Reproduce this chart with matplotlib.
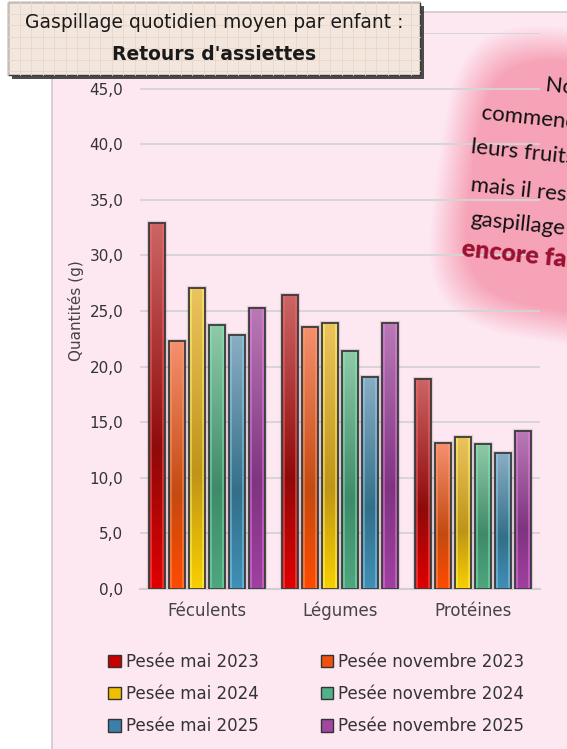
import matplotlib.pyplot as plt
import numpy as np
from matplotlib.colors import LinearSegmentedColormap, to_rgb
from matplotlib.patches import Rectangle, Patch

# Data
categories = ['Féculents', 'Légumes', 'Protéines']
series = ['Pesée mai 2023', 'Pesée novembre 2023', 'Pesée mai 2024',
          'Pesée novembre 2024', 'Pesée mai 2025', 'Pesée novembre 2025']
mai_2023 = [32.9, 26.4, 18.9]
nov_2023 = [22.3, 23.6, 13.1]
mai_2024 = [27.1, 23.9, 13.7]
nov_2024 = [23.7, 21.4, 13.0]
mai_2025 = [22.8, 19.1, 12.2]
nov_2025 = [25.3, 23.9, 14.2]
values = [mai_2023, nov_2023, mai_2024, nov_2024, mai_2025, nov_2025]

# bar gradient stops: top, middle (dark), bottom (bright), inner edge highlight
top_colors = ['#cc6666', '#f59070', '#ecc45e', '#8fcaa8', '#8aaec4', '#b97ab5']
mid_colors = ['#8f0a0a', '#c44a10', '#c09418', '#3f8a6a', '#336f88', '#7f3480']
bot_colors = ['#e00000', '#ff4a00', '#f8d000', '#4fa67f', '#4090b8', '#a040a0']
edge_light = ['#ff6a6a', '#ffa070', '#ffff70', '#80f0b8', '#90d8f8', '#f080f0']
legend_colors = ['#c80000', '#f05010', '#f0c000', '#50b088', '#3a80a8', '#a048a0']

W, H = 567, 749
fig = plt.figure(figsize=(W / 100, H / 100), dpi=100)

def fx(x):
    return x / W

def fy(y):
    return 1 - y / H

# background: pink panel + blob
bg = fig.add_axes([0, 0, 1, 1], zorder=-2)
bg.set_xlim(0, W)
bg.set_ylim(H, 0)
bg.axis('off')
bg.add_patch(Rectangle((52, 12), W, H, facecolor='#fde8f2', edgecolor='#d0c8cc', lw=1.2))

yy, xx = np.mgrid[0:380, 0:170]
cx, cy = 600, 190
ang = np.deg2rad(-8)
dx = (xx + 420) - cx
dy = (yy + 10) - cy
rx = dx * np.cos(ang) - dy * np.sin(ang)
ry = dx * np.sin(ang) + dy * np.cos(ang)
d = ((rx / 165) ** 4 + (ry / 158) ** 4) ** 0.25
alpha = np.clip((1.0 - d) / 0.22, 0, 1) * 0.58
blob = np.zeros((380, 170, 4))
blob[..., :3] = to_rgb('#f2708c')
blob[..., 3] = alpha
bg.imshow(blob, extent=[420, 590, 390, 10], interpolation='bilinear', zorder=1)

# main plot
ax = fig.add_axes([fx(140), fy(589), fx(540) - fx(140), fy(33) - fy(589)])
ax.set_facecolor('none')

step = 0.15
bw = 0.12
x = np.arange(len(categories))
grad = np.linspace(0, 1, 256).reshape(-1, 1)
for i, vals in enumerate(values):
    off = (i - 2.5) * step
    cmap = LinearSegmentedColormap.from_list(
        'g', [(0, top_colors[i]), (0.62, mid_colors[i]), (1, bot_colors[i])])
    for xi, v in zip(x, vals):
        x0 = xi + off - bw / 2
        ax.bar(xi + off, v, width=bw, color='none', edgecolor=(0, 0, 0, 0.12), lw=3, zorder=2)
        ax.imshow(grad, extent=[x0, x0 + bw, 0, v], cmap=cmap, aspect='auto', zorder=3)
        ax.bar(xi + off, v, width=bw * 0.76, color='none', edgecolor=edge_light[i],
               alpha=0.55, lw=1.2, zorder=4)
        ax.bar(xi + off, v, width=bw, color='none', edgecolor='#3a3a3a', lw=1.3, zorder=5)

ax.set_xlim(-0.5, 2.5)
ax.set_ylim(0, 50)
yt = np.arange(0, 51, 5)
ax.set_yticks(yt)
ax.set_yticklabels([f'{t:.1f}'.replace('.', ',') if t < 50 else '' for t in yt])
ax.set_xticks(x)
ax.set_xticklabels(categories)
ax.grid(axis='y', color='#d4d4d4', lw=1.3, zorder=0)
ax.set_axisbelow(True)
for s in ['top', 'right', 'left']:
    ax.spines[s].set_visible(False)
ax.spines['bottom'].set_color('#cfcfcf')
ax.spines['bottom'].set_linewidth(1.5)
ax.tick_params(axis='y', length=0, pad=12, labelsize=11, labelcolor='#333333')
ax.tick_params(axis='x', length=0, pad=9, labelsize=12, labelcolor='#444444')
ax.set_ylabel('Quantités (g)', fontsize=11, color='#444444', labelpad=4)

handles = [Patch(facecolor=legend_colors[i], edgecolor='#333333', lw=1) for i in range(6)]
order = [0, 2, 4, 1, 3, 5]
leg = fig.legend([handles[i] for i in order], [series[i] for i in order],
                 loc='upper left', bbox_to_anchor=(fx(93), fy(638)), ncol=2,
                 frameon=False, fontsize=12, handlelength=0.75, handleheight=0.75,
                 handletextpad=0.3, columnspacing=3.75, labelspacing=0.85,
                 labelcolor='#333333')

# overlay: title box and blob text
ov = fig.add_axes([0, 0, 1, 1], zorder=10)
ov.set_xlim(0, W)
ov.set_ylim(H, 0)
ov.axis('off')
ov.set_facecolor('none')
ov.add_patch(Rectangle((12, 6), 412, 73, facecolor='#2e2e2e', alpha=0.85, zorder=1))
ov.add_patch(Rectangle((8, 2), 412, 73, facecolor='#f3e7dd', edgecolor='#3a3a3a', lw=1, zorder=2))
for gx in np.arange(8, 420, 11.5):
    ov.plot([gx, gx], [2, 75], color='#e6d6cc', lw=0.6, zorder=3)
for gy in np.arange(2, 75, 11.5):
    ov.plot([8, 420], [gy, gy], color='#e6d6cc', lw=0.6, zorder=3)
ov.text(214, 22, 'Gaspillage quotidien moyen par enfant :', ha='center', va='center',
        fontsize=13.5, color='#1a1a1a', zorder=4)
ov.text(214, 55, "Retours d'assiettes", ha='center', va='center',
        fontsize=13.5, fontweight='bold', color='#1a1a1a', zorder=4)

blob_lines = ['Nos enfants', 'commencent à finir', 'leurs fruits, légumes',
              'mais il reste du', 'gaspillage', 'encore faible']
blob_pos = [(545, 91), (481, 119), (470, 153), (470, 191), (470, 225), (461, 256)]
for k, (txt, (px, py)) in enumerate(zip(blob_lines, blob_pos)):
    bold = k == len(blob_lines) - 1
    ov.text(px, py, txt, ha='left', va='baseline', rotation=-6, rotation_mode='anchor',
            fontsize=18 if bold else 16, family='Lato',
            color='#9b1030' if bold else '#111111',
            fontweight='heavy' if bold else 'normal', zorder=4, clip_on=False)

fig.savefig('out.png', dpi=100)
